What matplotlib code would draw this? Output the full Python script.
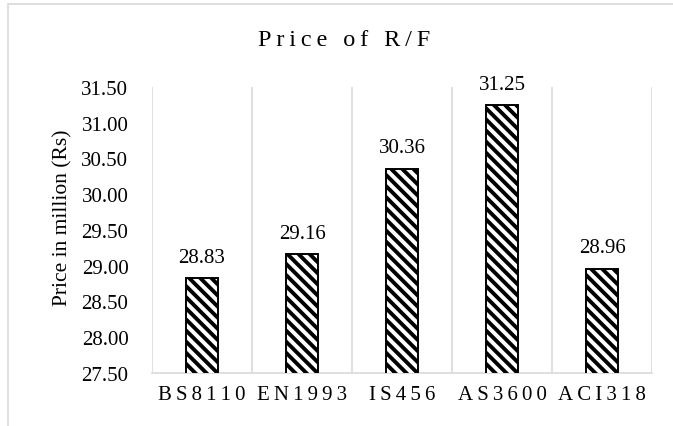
import matplotlib.pyplot as plt
from matplotlib.patches import Rectangle

#---------------------------------------------------
codes = ["BS8110", "EN1993", "IS456", "AS3600", "ACI318"]
prices = [28.83, 29.16, 30.36, 31.25, 28.96]
yticks = [27.5, 28.0, 28.5, 29.0, 29.5, 30.0, 30.5, 31.0, 31.5]

def spaced(s):
    #Excel-like letter spacing with thin spaces
    return "\u2009".join(s)

plt.rcParams['font.family'] = ['Liberation Serif', 'DejaVu Serif']
plt.rcParams['hatch.linewidth'] = 2.8

W, H = 673, 427
fig = plt.figure(figsize=(W/100, H/100), dpi=100)
#Light frame round the chart area
fig.patches.append(Rectangle((8/W, -0.1), 1.2, (H - 5)/H + 0.1,
                             transform=fig.transFigure, fill=False,
                             edgecolor="#d9d9d9", linewidth=1.2))

#Plot area: x 152..652, y 88..374 (pixels from top)
ax = fig.add_axes([152/W, 1 - 374/H, 500/W, 286/H])
x = range(len(codes))
ax.bar(x, prices, width=0.32, color="white", edgecolor="black",
       hatch="\\\\\\", linewidth=1.4, zorder=3)

for i, v in enumerate(prices):
    ax.annotate("%.2f" % v, (i, v), xytext=(0, 8), textcoords="offset points",
                ha="center", va="bottom", fontsize=15)

ax.set_xlim(-0.5, len(codes) - 0.5)
ax.set_ylim(27.5, 31.5)
ax.set_yticks(yticks)
ax.set_yticklabels(["%.2f" % t for t in yticks], fontsize=15)
ax.set_xticks(list(x))
ax.set_xticklabels([spaced(c) for c in codes], fontsize=15)

#Vertical separators between categories
ax.set_xticks([i - 0.5 for i in range(len(codes) + 1)], minor=True)
ax.grid(True, which="minor", axis="x", color="#d9d9d9", linewidth=1.2)
ax.tick_params(axis="both", which="both", length=0)
ax.tick_params(axis="x", pad=9)
ax.tick_params(axis="y", pad=17)

for side in ["top", "left", "right"]:
    ax.spines[side].set_visible(False)
ax.spines["bottom"].set_color("#d9d9d9")
ax.spines["bottom"].set_linewidth(1.2)

fig.text(63/W, 1 - 218/H, "Price in million (Rs)", rotation=90,
         ha="center", va="center", fontsize=15.5)
fig.text(344/W, 1 - 41/H, spaced("Price of R/F"), ha="center",
         va="center", fontsize=17.5)

fig.savefig("out.png", dpi=100)
